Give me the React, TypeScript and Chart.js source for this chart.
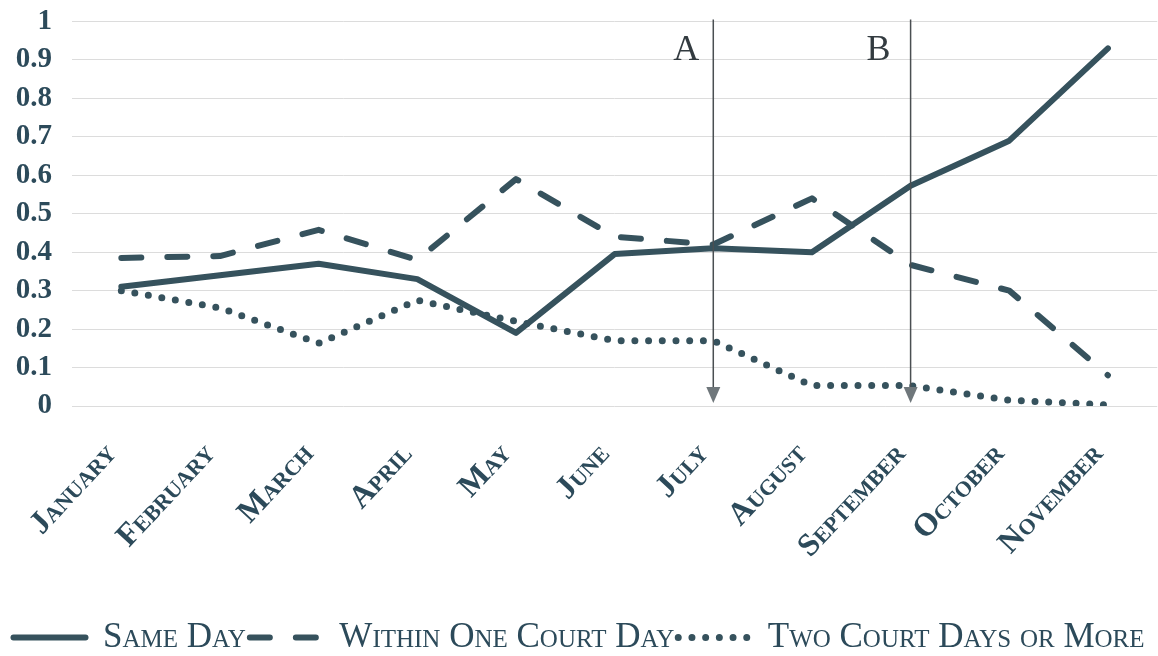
import React, { useEffect, useRef } from 'react';
import { Chart, registerables } from 'chart.js';
Chart.register(...registerables);

const months = ['January', 'February', 'March', 'April', 'May', 'June', 'July', 'August', 'September', 'October', 'November'];
const sameDay = [0.31, 0.34, 0.37, 0.33, 0.19, 0.395, 0.41, 0.40, 0.573, 0.69, 0.93];
const withinOneCourtDay = [0.385, 0.39, 0.458, 0.38, 0.59, 0.44, 0.42, 0.54, 0.367, 0.30, 0.08];
const twoCourtDaysOrMore = [0.30, 0.255, 0.163, 0.275, 0.22, 0.17, 0.17, 0.053, 0.053, 0.015, 0.003];
const seriesNames = ['Same Day', 'Within One Court Day', 'Two Court Days or More'];
const seriesDashes = [[], [20, 26], [0, 13.7]];
const markerLabels = ['A', 'B'];
const markerMonths = ['July', 'September'];

const SERIF = "'Liberation Serif', 'Times New Roman', serif";
const TEXT = '#2c4a5a';
const LINE = '#36525d';

const arrowPlugin = {
  id: 'arrows',
  afterDatasetsDraw(chart: any) {
    const { ctx, chartArea, scales } = chart;
    const xs = scales.x;
    ctx.save();
    markerMonths.forEach((m, i) => {
      const x = xs.getPixelForValue(months.indexOf(m));
      const top = chartArea.top - 2;
      const tip = chartArea.bottom - 3;
      ctx.strokeStyle = '#4a4f52';
      ctx.lineWidth = 1.5;
      ctx.setLineDash([]);
      ctx.beginPath();
      ctx.moveTo(x, top);
      ctx.lineTo(x, tip - 12);
      ctx.stroke();
      ctx.fillStyle = '#6f777b';
      ctx.beginPath();
      ctx.moveTo(x - 7, tip - 16);
      ctx.lineTo(x + 7, tip - 16);
      ctx.lineTo(x, tip);
      ctx.closePath();
      ctx.fill();
      ctx.fillStyle = '#333b40';
      ctx.font = `36px ${SERIF}`;
      ctx.textAlign = 'right';
      ctx.textBaseline = 'middle';
      ctx.fillText(markerLabels[i], x - (i === 0 ? 14 : 20), chartArea.top + 29);
    });
    ctx.restore();
  },
};

export default function App() {
  const ref = useRef<HTMLCanvasElement>(null);
  useEffect(() => {
    document.body.style.margin = '0';
    const common = {
      borderColor: LINE,
      backgroundColor: LINE,
      borderWidth: 6,
      pointRadius: 0,
      pointHoverRadius: 0,
      tension: 0,
      fill: false,
      borderCapStyle: 'round' as const,
      borderJoinStyle: 'round' as const,
    };
    const chart = new Chart(ref.current!, {
      type: 'line',
      data: {
        labels: months,
        datasets: [
          { ...common, label: seriesNames[0], data: sameDay, borderDash: seriesDashes[0] },
          { ...common, label: seriesNames[1], data: withinOneCourtDay, borderDash: seriesDashes[1] },
          { ...common, label: seriesNames[2], data: twoCourtDaysOrMore, borderDash: seriesDashes[2], borderWidth: 7 },
        ],
      },
      options: {
        animation: false,
        responsive: true,
        maintainAspectRatio: false,
        layout: { padding: { top: 0, right: 0, left: 0, bottom: -9 } },
        plugins: {
          tooltip: { enabled: false },
          legend: {
            position: 'bottom',
            labels: {
              usePointStyle: true,
              pointStyle: 'line',
              pointStyleWidth: 72,
              boxHeight: 20,
              padding: 4,
              color: TEXT,
              font: { family: SERIF, size: 35, lineHeight: 0.7, weight: 'small-caps normal' as any },
              generateLabels: (c: any) => {
                const items = Chart.defaults.plugins.legend.labels.generateLabels(c);
                return items.map((it: any, i: number) => ({
                  ...it,
                  lineDash: seriesDashes[i],
                  lineCap: 'round',
                  lineWidth: i === 2 ? 7 : 6,
                  strokeStyle: LINE,
                  fillStyle: LINE,
                }));
              },
            },
          },
        },
        scales: {
          x: {
            offset: true,
            grid: { display: false },
            border: { display: false },
            ticks: {
              color: TEXT,
              minRotation: 47,
              maxRotation: 47,
              padding: 22,
              labelOffset: -10,
              font: { family: SERIF, size: 32, weight: 'small-caps bold' as any },
            },
            afterFit: (s: any) => { s.height = 210; },
          },
          y: {
            min: 0,
            max: 1,
            grid: { color: '#dcdcdc', lineWidth: 1, drawTicks: false },
            border: { display: false },
            ticks: {
              stepSize: 0.1,
              color: TEXT,
              padding: 20,
              font: { family: SERIF, size: 29, weight: 'bold', lineHeight: 0.1 },
              callback: (v: any) => String(Math.round(Number(v) * 10) / 10),
            },
            afterFit: (s: any) => { s.width = 72; },
          },
        },
      },
      plugins: [arrowPlugin],
    });
    return () => chart.destroy();
  }, []);
  return (
    <div style={{ position: 'relative', width: 1158, height: 656 }}>
      <canvas ref={ref} />
    </div>
  );
}
